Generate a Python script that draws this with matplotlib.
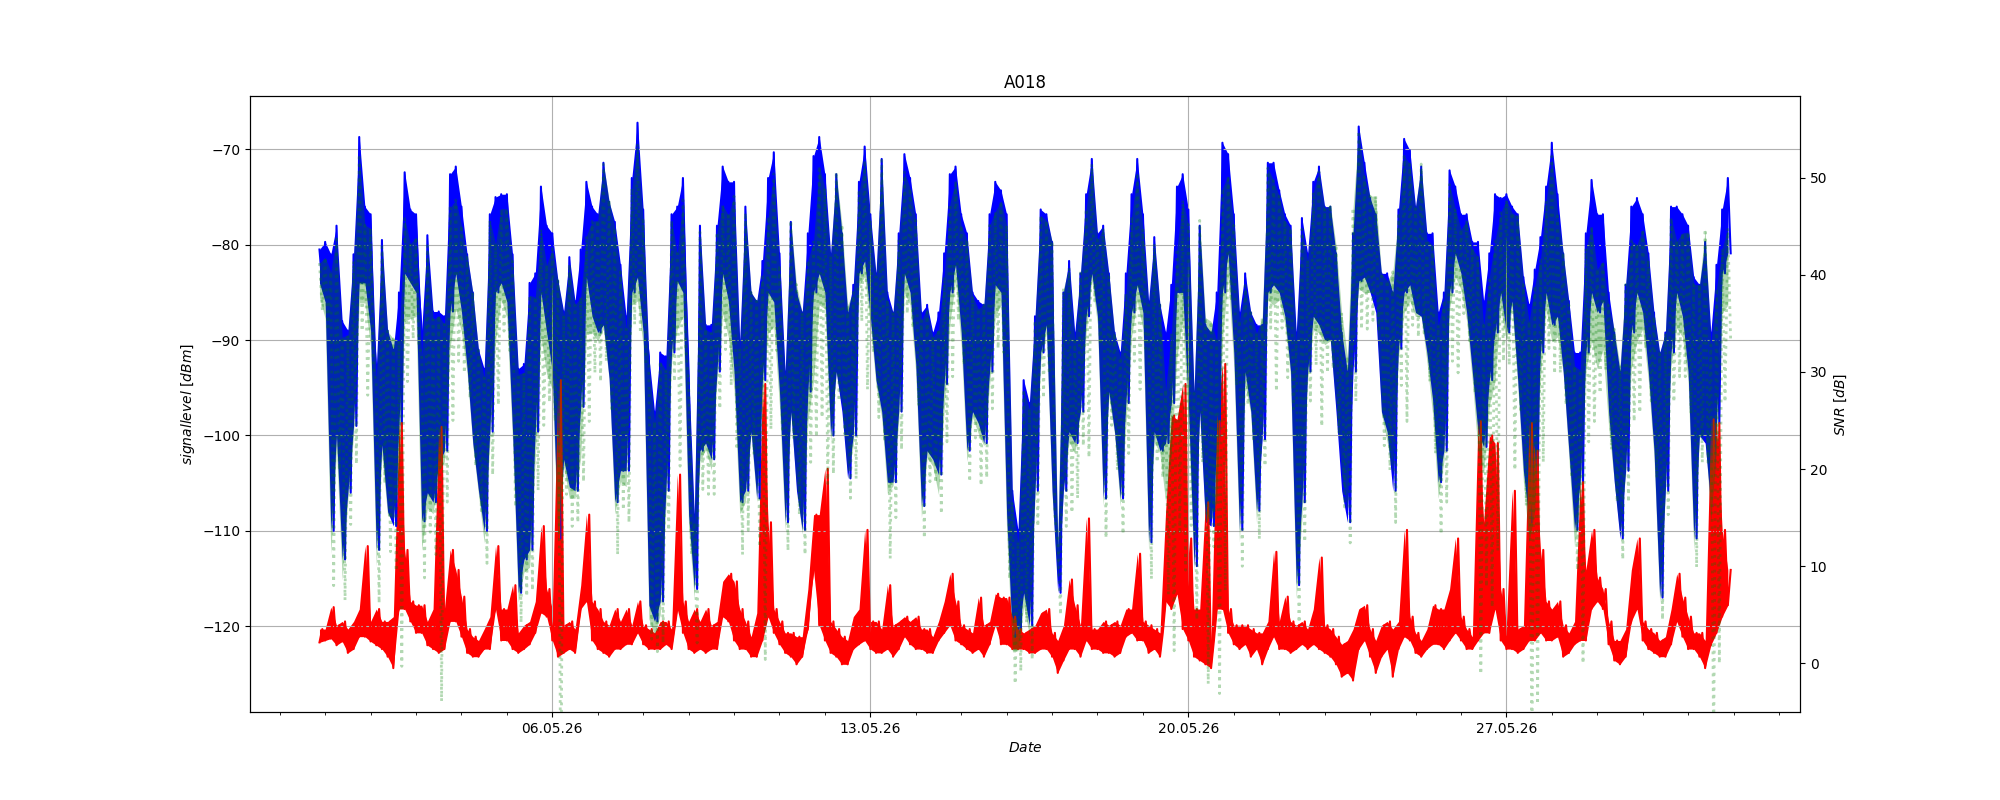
# Signal level / noise / SNR for station A018, May 2026
import numpy as np
import pandas as pd
import matplotlib
matplotlib.use("Agg")
import matplotlib.pyplot as plt
import matplotlib.dates as mdates

# 3-hourly samples starting 30.04.26 21:00, each slot has an upper and lower reading
start_time = "2026-04-30 21:00"

signal_hi = [
    -80.5, -79.7, -81.0, -78.0, -88.0, -89.0, -81.0, -68.7, -76.0,
    -76.8, -93.0, -79.5, -89.0, -91.0, -85.0, -72.4, -76.3,
    -76.8, -89.0, -79.0, -87.0, -87.0, -87.5, -72.6, -71.8,
    -76.0, -81.0, -85.0, -91.0, -93.0, -76.8, -75.0, -74.7,
    -74.7, -81.0, -93.0, -92.5, -84.0, -83.0, -73.9, -78.0,
    -78.8, -83.8, -87.0, -81.3, -85.9, -80.5, -73.4, -76.0,
    -76.8, -71.4, -75.5, -77.6, -82.1, -87.5, -73.0, -67.2,
    -76.3, -91.7, -97.5, -91.3, -91.7, -76.8, -76.0, -73.0,
    -93.3, -108.3, -78.0, -88.4, -88.4, -78.0, -71.8, -73.4,
    -73.4, -90.0, -76.0, -85.0, -85.9, -81.7, -73.0, -70.3,
    -80.9, -93.3, -77.6, -85.0, -87.1, -78.8, -70.7, -68.7,
    -72.6, -80.9, -72.6, -78.8, -87.1, -84.2, -73.4, -69.7,
    -76.8, -83.0, -71.0, -85.0, -87.1, -78.8, -70.5, -73.0,
    -76.8, -87.1, -86.3, -89.2, -87.1, -80.9, -72.6, -71.8,
    -76.8, -78.8, -85.0, -85.9, -86.3, -76.8, -73.4, -74.3,
    -76.8, -105.8, -109.9, -94.2, -96.6, -87.5, -76.3, -76.8,
    -79.7, -112.0, -85.0, -81.7, -89.2, -83.0, -74.7, -71.0,
    -78.8, -78.0, -83.0, -89.2, -91.3, -83.0, -74.7, -71.0,
    -76.8, -85.9, -79.2, -86.3, -89.2, -84.2, -73.9, -72.6,
    -76.3, -95.4, -78.0, -88.4, -89.2, -85.0, -69.3, -70.5,
    -76.8, -87.1, -83.0, -87.1, -88.4, -88.4, -71.4, -71.4,
    -74.3, -76.8, -78.0, -89.2, -77.2, -80.9, -73.4, -71.8,
    -76.0, -76.0, -80.9, -89.2, -93.3, -78.8, -67.6, -71.4,
    -75.1, -76.8, -83.0, -83.0, -85.0, -76.3, -68.9, -70.1,
    -76.0, -71.8, -78.8, -78.8, -87.1, -85.0, -72.2, -73.9,
    -76.8, -76.8, -79.7, -79.7, -85.9, -80.9, -74.7, -75.1,
    -74.7, -76.0, -76.8, -83.4, -86.3, -82.6, -79.2, -73.9,
    -69.3, -74.7, -80.9, -85.9, -91.3, -91.3, -78.8, -73.2,
    -76.8, -76.8, -85.0, -89.2, -93.3, -84.2, -76.0, -75.1,
    -76.8, -80.9, -87.1, -91.3, -89.2, -76.0, -76.0, -76.8,
    -78.0, -83.4, -84.2, -79.7, -89.2, -82.1, -76.3, -73.0,
]

signal_lo = [
    -84.0, -86.0, -110.0, -100.0, -113.0, -106.0, -99.0, -84.0, -84.0,
    -89.0, -112.0, -101.0, -108.0, -109.5, -99.0, -83.0, -84.0,
    -85.0, -109.0, -106.0, -107.0, -103.0, -101.6, -87.0, -83.0,
    -87.0, -93.0, -100.8, -105.8, -110.0, -99.6, -85.0, -84.0,
    -86.0, -99.6, -116.5, -113.0, -112.0, -99.6, -85.0, -89.2,
    -93.3, -110.8, -102.5, -105.4, -105.8, -97.0, -83.4, -87.5,
    -89.2, -88.4, -94.0, -107.0, -103.7, -103.7, -85.0, -83.4,
    -89.2, -117.8, -119.5, -117.4, -105.8, -91.3, -83.8, -85.0,
    -108.3, -116.1, -101.6, -100.8, -102.5, -93.3, -83.0, -85.9,
    -93.3, -107.0, -105.8, -99.6, -106.6, -94.2, -85.0, -86.0,
    -95.4, -109.1, -97.5, -105.8, -109.9, -95.4, -85.0, -83.0,
    -85.0, -100.0, -93.3, -97.5, -104.5, -100.0, -83.0, -81.7,
    -87.5, -94.2, -97.5, -104.9, -104.9, -97.5, -83.0, -85.0,
    -92.5, -107.4, -101.6, -102.5, -104.1, -94.6, -85.0, -82.1,
    -89.2, -101.6, -97.5, -98.7, -100.8, -93.3, -84.2, -85.0,
    -108.3, -121.1, -121.1, -116.5, -119.9, -105.8, -91.3, -88.4,
    -105.8, -116.5, -105.8, -99.6, -100.8, -97.5, -87.5, -83.0,
    -87.5, -106.6, -95.4, -99.6, -106.6, -96.6, -87.1, -84.2,
    -87.1, -111.2, -99.6, -101.6, -100.8, -96.6, -85.0, -85.0,
    -96.6, -113.7, -97.5, -109.1, -109.5, -101.6, -85.0, -80.9,
    -91.3, -109.9, -93.3, -97.5, -107.9, -100.4, -85.0, -84.2,
    -85.0, -87.5, -93.3, -115.7, -107.0, -93.3, -87.5, -88.4,
    -90.0, -90.0, -97.5, -105.8, -109.1, -93.3, -83.8, -83.4,
    -85.0, -87.1, -97.5, -99.6, -105.8, -90.9, -85.0, -84.2,
    -87.1, -87.5, -91.3, -96.2, -104.9, -101.6, -85.0, -80.9,
    -83.0, -87.1, -93.3, -99.6, -101.2, -94.2, -89.2, -85.0,
    -89.2, -85.9, -94.2, -103.7, -109.1, -105.8, -91.3, -85.0,
    -88.4, -87.5, -93.3, -101.6, -109.9, -104.9, -91.3, -85.0,
    -87.1, -85.9, -97.5, -104.9, -110.8, -103.7, -89.2, -85.0,
    -87.1, -93.3, -101.6, -117.0, -105.8, -91.3, -85.0, -87.5,
    -93.3, -110.8, -100.0, -100.8, -107.4, -98.7, -83.0, -80.9,
]

noise_hi = [
    -120.3, -120.3, -118.0, -119.9, -119.5, -120.3, -119.5, -118.2, -111.6,
    -119.5, -118.2, -119.5, -119.5, -119.0, -98.7, -112.0, -117.4,
    -117.8, -117.8, -119.5, -118.2, -99.1, -118.2, -112.0, -114.1,
    -116.9, -120.3, -121.1, -121.5, -120.3, -119.0, -111.6, -118.2,
    -118.2, -115.7, -120.7, -119.9, -119.5, -117.4, -109.5, -116.1,
    -118.2, -94.2, -119.9, -119.5, -120.3, -115.7, -108.3, -117.4,
    -118.2, -119.5, -119.9, -118.2, -119.5, -118.2, -119.9, -117.4,
    -119.9, -120.3, -120.7, -119.5, -119.5, -120.3, -104.1, -117.4,
    -119.5, -118.2, -119.5, -118.2, -119.9, -119.5, -115.3, -114.5,
    -115.3, -118.2, -119.5, -121.1, -118.6, -94.6, -109.1, -118.2,
    -119.5, -120.7, -120.7, -121.1, -121.1, -116.1, -108.3, -108.3,
    -103.5, -119.5, -120.3, -121.1, -121.5, -119.0, -118.2, -109.9,
    -119.5, -119.5, -120.3, -115.7, -119.9, -119.5, -119.0, -119.5,
    -119.0, -120.3, -120.3, -121.1, -119.5, -117.4, -114.5, -117.4,
    -119.9, -120.3, -120.7, -117.0, -119.9, -119.5, -116.6, -117.0,
    -117.0, -119.0, -120.3, -120.7, -120.3, -119.9, -118.6, -118.2,
    -120.7, -121.5, -119.9, -115.1, -117.8, -119.9, -108.7, -120.3,
    -120.3, -119.5, -119.9, -119.5, -119.9, -118.2, -118.2, -112.4,
    -119.5, -119.9, -120.3, -120.7, -107.9, -97.9, -98.3, -94.6,
    -110.8, -118.2, -118.2, -107.0, -121.5, -98.5, -92.5, -118.2,
    -119.9, -119.9, -119.9, -120.3, -120.7, -120.7, -119.5, -112.2,
    -119.5, -116.9, -119.5, -119.9, -119.5, -120.3, -118.2, -112.8,
    -119.9, -120.3, -121.1, -121.9, -121.5, -120.3, -118.2, -117.8,
    -120.3, -121.5, -119.9, -119.5, -120.3, -119.5, -109.9, -119.0,
    -120.7, -121.5, -120.3, -117.8, -118.2, -118.2, -116.1, -110.8,
    -119.0, -120.3, -121.1, -98.5, -109.1, -100.0, -100.8, -116.1,
    -119.9, -105.8, -120.3, -119.9, -98.7, -101.6, -112.0, -117.4,
    -118.2, -117.4, -119.9, -120.7, -119.5, -104.9, -114.1, -109.9,
    -114.9, -116.1, -119.5, -121.5, -121.5, -120.3, -114.1, -110.8,
    -119.5, -120.3, -120.7, -121.5, -121.1, -118.2, -114.5, -117.0,
    -119.0, -120.7, -120.7, -121.5, -98.3, -98.7, -109.9, -114.1,
]

noise_lo = [
    -121.7, -121.5, -121.3, -122.0, -121.6, -122.8, -122.4, -121.1, -121.1,
    -121.6, -122.0, -122.4, -123.2, -124.4, -118.2, -118.2, -119.5,
    -120.7, -120.7, -122.0, -122.4, -122.8, -122.4, -119.5, -119.5,
    -121.1, -122.8, -123.2, -123.2, -122.4, -122.4, -118.2, -121.5,
    -121.5, -122.4, -122.8, -122.4, -121.9, -120.7, -118.6, -119.0,
    -121.5, -123.2, -122.8, -122.4, -122.8, -118.2, -117.4, -121.5,
    -122.4, -122.8, -123.2, -122.4, -122.4, -121.9, -121.9, -120.7,
    -121.9, -122.4, -122.4, -122.4, -121.9, -122.4, -118.2, -120.7,
    -122.4, -122.8, -122.4, -122.8, -122.4, -122.4, -119.0, -119.5,
    -121.5, -122.4, -122.4, -123.2, -123.2, -121.5, -119.0, -120.7,
    -121.9, -122.8, -123.2, -124.0, -123.2, -120.3, -114.1, -119.9,
    -121.5, -122.8, -123.2, -124.0, -124.0, -122.4, -121.9, -121.5,
    -122.4, -122.8, -122.8, -122.4, -123.2, -122.4, -121.1, -121.9,
    -122.4, -122.4, -122.8, -122.8, -121.5, -120.7, -119.9, -121.5,
    -121.9, -122.4, -122.8, -122.4, -123.2, -121.9, -119.9, -121.9,
    -121.9, -122.4, -122.4, -122.4, -122.8, -122.8, -122.4, -122.4,
    -123.2, -124.9, -123.6, -122.4, -122.4, -123.2, -121.5, -122.4,
    -122.4, -122.8, -122.8, -123.2, -122.8, -121.1, -120.7, -121.5,
    -121.5, -122.8, -122.4, -123.2, -117.4, -118.2, -116.6, -120.3,
    -121.5, -123.2, -123.6, -124.0, -124.4, -118.2, -118.2, -120.7,
    -121.9, -122.4, -121.9, -123.2, -122.4, -124.0, -122.4, -121.1,
    -122.4, -122.4, -122.8, -122.4, -121.9, -122.4, -121.9, -122.4,
    -122.8, -123.2, -124.0, -125.3, -124.9, -125.7, -122.4, -121.5,
    -123.2, -124.9, -123.2, -122.4, -125.3, -122.4, -121.1, -121.5,
    -122.8, -123.2, -122.4, -121.9, -121.9, -122.4, -121.5, -120.7,
    -121.5, -122.4, -122.4, -121.5, -120.7, -120.7, -118.2, -121.5,
    -122.4, -122.4, -122.8, -122.4, -121.5, -121.5, -120.7, -121.5,
    -121.5, -121.1, -123.2, -122.8, -121.9, -121.5, -121.5, -118.2,
    -117.4, -118.2, -121.9, -123.6, -124.0, -123.2, -119.5, -118.2,
    -121.5, -122.4, -122.8, -123.2, -123.2, -121.9, -119.5, -121.1,
    -122.4, -122.4, -123.2, -124.4, -122.0, -120.7, -119.0, -117.8,
]

sig_hi = np.array(signal_hi)
sig_lo = np.array(signal_lo)
noi_hi = np.array(noise_hi)
noi_lo = np.array(noise_lo)

# time axis: upper reading at slot start, lower reading half a slot later
slots = pd.date_range(start_time, periods=len(signal_hi), freq="3h")
times = np.column_stack([slots, slots + pd.Timedelta(minutes=90)]).ravel()
signal = np.column_stack([sig_hi, sig_lo]).ravel()
noise = np.column_stack([noi_lo, noi_hi]).ravel()
snr = signal - noise

# SNR band against the noise floor
snr_hi = sig_hi - noi_lo
snr_lo = sig_lo - noi_lo

fig, ax1 = plt.subplots(figsize=(20, 8), dpi=100)
ax1.fill_between(slots, sig_lo, sig_hi, color="b", linewidth=0)
ax1.plot(times, signal, color="b", linewidth=1.5)
ax1.fill_between(slots, noi_lo, noi_hi, color="r", linewidth=0)
ax1.plot(times, noise, color="r", linewidth=1.5)
ax1.set_ylabel("$signal level$ [$dBm$]")
ax1.set_xlabel("$Date$")
ax1.set_ylim(-129.0, -64.4)
ax1.grid(True)

ax2 = ax1.twinx()
ax2.fill_between(slots, snr_lo, snr_hi, color="g", alpha=0.3, linewidth=0)
ax2.plot(times, snr, color="g", linestyle=":", linewidth=2, alpha=0.3)
ax2.set_ylabel("$SNR$ [$dB$]")
ax2.set_ylim(-5.0, 58.4)

ax1.set_xlim(pd.Timestamp("2026-04-29 08:18"), pd.Timestamp("2026-06-02 11:07"))
ax1.xaxis.set_major_locator(mdates.WeekdayLocator(byweekday=mdates.WE))
ax1.xaxis.set_minor_locator(mdates.DayLocator())
ax1.xaxis.set_major_formatter(mdates.DateFormatter("%d.%m.%y"))

plt.title("A018")
plt.savefig("out.png")
plt.close()
